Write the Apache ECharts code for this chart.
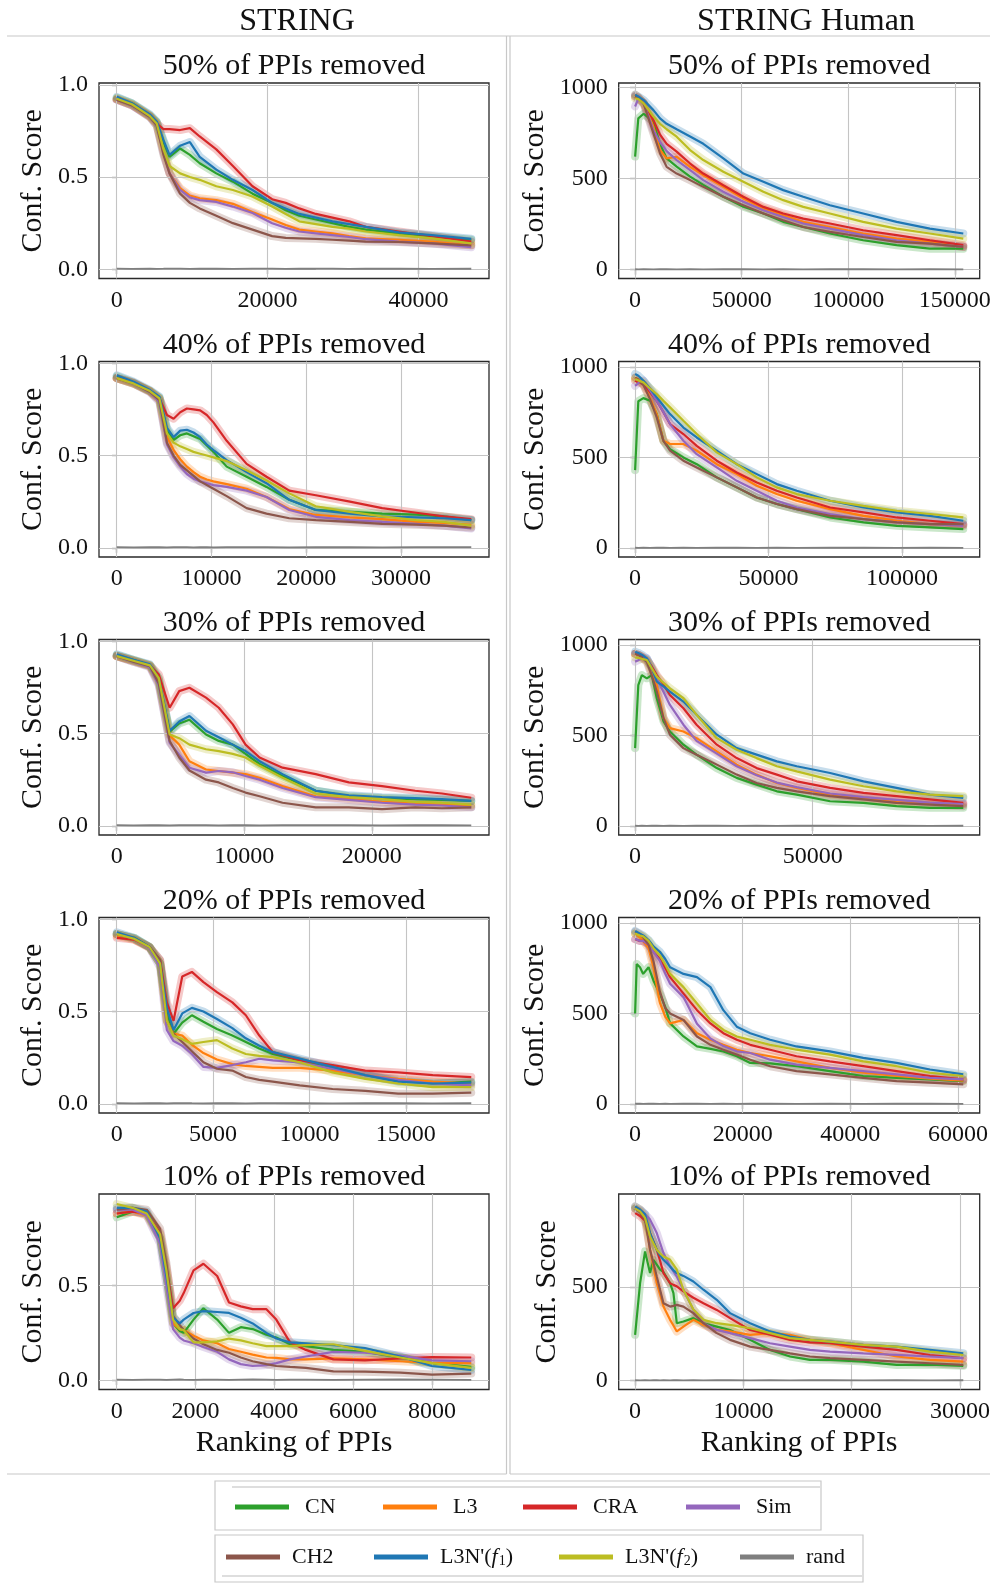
<!DOCTYPE html>
<html><head><meta charset="utf-8">
<script src="https://cdn.jsdelivr.net/npm/echarts@6/dist/echarts.min.js"></script>
<style>html,body{margin:0;padding:0;background:#fff}#c{width:997px;height:1583px}</style>
</head><body><div id="c"></div>
<script>
// ---------- series names ----------
const NAMES = ['CN', 'L3', 'CRA', 'Sim', 'CH2', "L3N'(f1)", "L3N'(f2)", 'rand'];

// ---------- tick labels ----------
const S_yTicks = [0, 0.5, 1.0];
const S10_yTicks = [0, 0.5];
const H_yTicks = [0, 500, 1000];
const H10_yTicks = [0, 500];
const S50_xTicks = [0, 20000, 40000];
const S40_xTicks = [0, 10000, 20000, 30000];
const S30_xTicks = [0, 10000, 20000];
const S20_xTicks = [0, 5000, 10000, 15000];
const S10_xTicks = [0, 2000, 4000, 6000, 8000];
const H50_xTicks = [0, 50000, 100000, 150000];
const H40_xTicks = [0, 50000, 100000];
const H30_xTicks = [0, 50000];
const H20_xTicks = [0, 20000, 40000, 60000];
const H10_xTicks = [0, 10000, 20000, 30000];

// ---------- STRING 50% ----------
const S50_x   = [0, 2000, 4400, 5300, 6200, 7000, 8400, 9700, 11000, 13200, 15400, 18000, 20600, 22400, 24200, 26400, 28600, 30800, 33000, 37400, 41800, 47000];
const S50_CN  = [0.93, 0.90, 0.835, 0.80, 0.69, 0.61, 0.655, 0.62, 0.575, 0.52, 0.475, 0.41, 0.36, 0.32, 0.29, 0.27, 0.25, 0.23, 0.215, 0.195, 0.178, 0.16];
const S50_L3  = [0.925, 0.895, 0.83, 0.79, 0.64, 0.52, 0.44, 0.40, 0.385, 0.375, 0.355, 0.31, 0.27, 0.24, 0.215, 0.205, 0.195, 0.18, 0.168, 0.16, 0.15, 0.13];
const S50_CRA = [0.92, 0.89, 0.83, 0.79, 0.76, 0.76, 0.755, 0.765, 0.72, 0.65, 0.56, 0.45, 0.38, 0.36, 0.33, 0.30, 0.28, 0.26, 0.23, 0.205, 0.18, 0.15];
const S50_Sim = [0.92, 0.89, 0.825, 0.78, 0.63, 0.52, 0.43, 0.39, 0.375, 0.365, 0.34, 0.305, 0.25, 0.225, 0.205, 0.195, 0.185, 0.175, 0.163, 0.15, 0.14, 0.12];
const S50_CH2 = [0.92, 0.89, 0.825, 0.78, 0.62, 0.52, 0.41, 0.36, 0.33, 0.29, 0.25, 0.215, 0.18, 0.17, 0.168, 0.165, 0.16, 0.155, 0.15, 0.148, 0.14, 0.13];
const S50_F1  = [0.935, 0.90, 0.84, 0.80, 0.70, 0.62, 0.67, 0.69, 0.61, 0.54, 0.485, 0.43, 0.36, 0.33, 0.30, 0.28, 0.26, 0.245, 0.23, 0.20, 0.185, 0.165];
const S50_F2  = [0.925, 0.895, 0.83, 0.79, 0.65, 0.56, 0.52, 0.50, 0.485, 0.45, 0.43, 0.395, 0.34, 0.30, 0.26, 0.245, 0.23, 0.22, 0.205, 0.185, 0.168, 0.14];
const S50_rand= [0.003, 0.002, 0.003, 0.002, 0.003, 0.004, 0.003, 0.002, 0.003, 0.003, 0.002, 0.004, 0.003, 0.002, 0.003, 0.003, 0.004, 0.002, 0.003, 0.003, 0.002, 0.003];

// ---------- STRING 40% ----------
const S40_x   = [0, 1800, 3500, 4500, 5300, 6000, 6700, 7400, 8100, 8800, 9500, 10200, 11600, 13700, 15800, 18200, 21000, 24600, 28000, 31600, 34500, 37400];
const S40_CN  = [0.93, 0.895, 0.85, 0.815, 0.64, 0.585, 0.61, 0.62, 0.605, 0.59, 0.555, 0.52, 0.44, 0.385, 0.33, 0.26, 0.205, 0.195, 0.185, 0.18, 0.17, 0.15];
const S40_L3  = [0.92, 0.89, 0.85, 0.80, 0.60, 0.53, 0.48, 0.44, 0.41, 0.385, 0.37, 0.36, 0.345, 0.32, 0.275, 0.21, 0.178, 0.165, 0.155, 0.14, 0.135, 0.125];
const S40_CRA = [0.92, 0.895, 0.85, 0.81, 0.72, 0.70, 0.735, 0.755, 0.75, 0.745, 0.72, 0.68, 0.58, 0.455, 0.385, 0.31, 0.285, 0.25, 0.215, 0.19, 0.17, 0.155];
const S40_Sim = [0.92, 0.89, 0.845, 0.79, 0.56, 0.49, 0.44, 0.40, 0.375, 0.36, 0.35, 0.34, 0.33, 0.31, 0.275, 0.205, 0.168, 0.15, 0.14, 0.13, 0.12, 0.105];
const S40_CH2 = [0.92, 0.89, 0.845, 0.80, 0.57, 0.50, 0.45, 0.42, 0.39, 0.36, 0.34, 0.32, 0.28, 0.215, 0.185, 0.16, 0.15, 0.14, 0.13, 0.125, 0.12, 0.11];
const S40_F1  = [0.935, 0.90, 0.855, 0.82, 0.65, 0.60, 0.635, 0.64, 0.625, 0.60, 0.56, 0.53, 0.475, 0.41, 0.35, 0.26, 0.205, 0.185, 0.17, 0.165, 0.16, 0.15];
const S40_F2  = [0.92, 0.89, 0.85, 0.81, 0.62, 0.57, 0.55, 0.535, 0.52, 0.51, 0.50, 0.49, 0.47, 0.42, 0.365, 0.295, 0.225, 0.195, 0.17, 0.15, 0.14, 0.12];
const S40_rand= [0.003, 0.002, 0.003, 0.003, 0.002, 0.003, 0.004, 0.003, 0.002, 0.003, 0.003, 0.002, 0.003, 0.004, 0.003, 0.002, 0.003, 0.003, 0.002, 0.003, 0.004, 0.003];

// ---------- STRING 30% ----------
const S30_x   = [0, 1300, 2600, 3300, 4150, 4900, 5700, 7000, 8000, 9100, 10100, 11200, 13000, 15600, 18200, 20800, 23400, 25500, 27800];
const S30_CN  = [0.925, 0.90, 0.87, 0.79, 0.51, 0.555, 0.575, 0.495, 0.46, 0.44, 0.39, 0.335, 0.27, 0.19, 0.16, 0.15, 0.145, 0.14, 0.135];
const S30_L3  = [0.92, 0.895, 0.865, 0.78, 0.49, 0.44, 0.35, 0.305, 0.297, 0.288, 0.28, 0.26, 0.215, 0.16, 0.145, 0.13, 0.12, 0.115, 0.11];
const S30_CRA = [0.92, 0.895, 0.87, 0.82, 0.64, 0.73, 0.748, 0.695, 0.64, 0.55, 0.44, 0.37, 0.315, 0.28, 0.235, 0.215, 0.19, 0.175, 0.152];
const S30_Sim = [0.92, 0.89, 0.86, 0.76, 0.45, 0.385, 0.315, 0.288, 0.297, 0.29, 0.27, 0.25, 0.205, 0.155, 0.14, 0.125, 0.115, 0.11, 0.10];
const S30_CH2 = [0.92, 0.89, 0.865, 0.77, 0.46, 0.37, 0.30, 0.25, 0.235, 0.205, 0.18, 0.16, 0.125, 0.10, 0.10, 0.09, 0.10, 0.095, 0.10];
const S30_F1  = [0.93, 0.90, 0.875, 0.80, 0.515, 0.565, 0.595, 0.515, 0.48, 0.44, 0.405, 0.35, 0.28, 0.19, 0.165, 0.155, 0.15, 0.145, 0.135];
const S30_F2  = [0.92, 0.895, 0.87, 0.80, 0.495, 0.475, 0.44, 0.415, 0.405, 0.39, 0.37, 0.325, 0.26, 0.175, 0.155, 0.145, 0.13, 0.125, 0.115];
const S30_rand= [0.003, 0.002, 0.003, 0.003, 0.002, 0.003, 0.004, 0.003, 0.002, 0.003, 0.003, 0.002, 0.003, 0.004, 0.003, 0.002, 0.003, 0.003, 0.002];

// ---------- STRING 20% ----------
const S20_x   = [0, 900, 1700, 2250, 2600, 2950, 3400, 3900, 4500, 5200, 6000, 6700, 7400, 8100, 9500, 11200, 12900, 14600, 16400, 18400];
const S20_CN  = [0.92, 0.90, 0.85, 0.76, 0.50, 0.38, 0.44, 0.48, 0.445, 0.405, 0.37, 0.335, 0.30, 0.27, 0.235, 0.19, 0.155, 0.125, 0.11, 0.12];
const S20_L3  = [0.91, 0.89, 0.845, 0.76, 0.45, 0.38, 0.37, 0.32, 0.275, 0.24, 0.215, 0.205, 0.20, 0.195, 0.195, 0.18, 0.155, 0.135, 0.12, 0.11];
const S20_CRA = [0.90, 0.89, 0.85, 0.78, 0.55, 0.45, 0.69, 0.715, 0.66, 0.605, 0.55, 0.48, 0.37, 0.28, 0.235, 0.21, 0.18, 0.17, 0.155, 0.145];
const S20_Sim = [0.92, 0.895, 0.845, 0.74, 0.40, 0.34, 0.315, 0.27, 0.20, 0.195, 0.21, 0.225, 0.244, 0.235, 0.225, 0.19, 0.155, 0.13, 0.11, 0.10];
const S20_CH2 = [0.92, 0.895, 0.85, 0.78, 0.45, 0.38, 0.335, 0.285, 0.225, 0.19, 0.18, 0.145, 0.13, 0.12, 0.10, 0.08, 0.07, 0.055, 0.055, 0.06];
const S20_F1  = [0.93, 0.90, 0.85, 0.76, 0.52, 0.40, 0.49, 0.52, 0.50, 0.46, 0.41, 0.355, 0.315, 0.28, 0.245, 0.20, 0.155, 0.12, 0.11, 0.115];
const S20_F2  = [0.92, 0.895, 0.85, 0.76, 0.45, 0.37, 0.35, 0.325, 0.335, 0.345, 0.30, 0.27, 0.26, 0.253, 0.225, 0.17, 0.135, 0.11, 0.09, 0.09];
const S20_rand= [0.003, 0.002, 0.003, 0.003, 0.002, 0.003, 0.004, 0.003, 0.002, 0.003, 0.003, 0.002, 0.003, 0.004, 0.003, 0.002, 0.003, 0.003, 0.002, 0.003];

// ---------- STRING 10% ----------
const S10_x   = [0, 400, 760, 1100, 1260, 1430, 1600, 1700, 1950, 2200, 2550, 2850, 3150, 3450, 3800, 4050, 4400, 4800, 5500, 6300, 7200, 8000, 9000];
const S10_CN  = [0.86, 0.89, 0.88, 0.75, 0.55, 0.30, 0.26, 0.25, 0.32, 0.38, 0.32, 0.25, 0.28, 0.27, 0.24, 0.225, 0.19, 0.18, 0.16, 0.15, 0.12, 0.09, 0.07];
const S10_L3  = [0.88, 0.89, 0.87, 0.75, 0.56, 0.30, 0.27, 0.265, 0.235, 0.21, 0.195, 0.165, 0.15, 0.135, 0.12, 0.118, 0.11, 0.11, 0.115, 0.11, 0.10, 0.092, 0.09];
const S10_CRA = [0.88, 0.89, 0.88, 0.78, 0.60, 0.38, 0.42, 0.46, 0.58, 0.615, 0.55, 0.41, 0.39, 0.375, 0.375, 0.32, 0.20, 0.16, 0.11, 0.105, 0.115, 0.122, 0.12];
const S10_Sim = [0.90, 0.90, 0.87, 0.72, 0.50, 0.27, 0.225, 0.21, 0.195, 0.175, 0.15, 0.11, 0.085, 0.075, 0.08, 0.09, 0.11, 0.125, 0.15, 0.145, 0.13, 0.105, 0.10];
const S10_CH2 = [0.90, 0.91, 0.90, 0.80, 0.62, 0.34, 0.29, 0.265, 0.22, 0.19, 0.16, 0.145, 0.12, 0.10, 0.085, 0.075, 0.07, 0.065, 0.047, 0.045, 0.04, 0.03, 0.035];
const S10_F1  = [0.91, 0.91, 0.89, 0.75, 0.55, 0.33, 0.30, 0.32, 0.355, 0.365, 0.36, 0.355, 0.33, 0.30, 0.25, 0.22, 0.20, 0.195, 0.185, 0.17, 0.125, 0.075, 0.055];
const S10_F2  = [0.93, 0.91, 0.88, 0.77, 0.58, 0.32, 0.27, 0.265, 0.20, 0.20, 0.205, 0.22, 0.21, 0.195, 0.18, 0.18, 0.18, 0.185, 0.19, 0.155, 0.12, 0.09, 0.065];
const S10_rand= [0.003, 0.002, 0.003, 0.003, 0.002, 0.003, 0.004, 0.003, 0.002, 0.003, 0.003, 0.002, 0.003, 0.004, 0.003, 0.002, 0.003, 0.003, 0.002, 0.003, 0.004, 0.003, 0.002];

// ---------- STRING Human 50% ----------
const H50_x   = [0, 1500, 4000, 8600, 11700, 14800, 19500, 25800, 32000, 41400, 50800, 60200, 69500, 78900, 91400, 107000, 122700, 138300, 154000];
const H50_CN  = [620, 830, 855, 810, 690, 610, 565, 510, 465, 400, 345, 308, 262, 234, 198, 161, 134, 115, 115];
const H50_L3  = [960, 945, 915, 784, 656, 610, 619, 564, 518, 454, 390, 335, 298, 262, 234, 198, 170, 152, 125];
const H50_CRA = [950, 940, 915, 820, 740, 690, 647, 582, 527, 463, 400, 344, 308, 280, 253, 216, 189, 161, 134];
const H50_Sim = [895, 935, 915, 765, 700, 650, 601, 546, 491, 427, 372, 326, 289, 253, 225, 189, 161, 143, 125];
const H50_CH2 = [950, 945, 910, 747, 637, 564, 527, 491, 454, 400, 353, 308, 271, 234, 207, 179, 152, 143, 125];
const H50_F1  = [960, 950, 930, 875, 830, 800, 770, 730, 690, 610, 527, 482, 436, 400, 353, 308, 262, 225, 198];
const H50_F2  = [940, 935, 912, 840, 800, 770, 729, 656, 601, 537, 482, 427, 381, 344, 308, 262, 225, 198, 170];
const H50_rand= [2, 1, 2, 1, 2, 2, 1, 2, 1, 2, 2, 1, 2, 1, 2, 2, 1, 2, 1];

// ---------- STRING Human 40% ----------
const H40_x   = [0, 1200, 3100, 5600, 8100, 10600, 13100, 18100, 23100, 30600, 38100, 45600, 53100, 60600, 73100, 85600, 98100, 110600, 123000];
const H40_CN  = [430, 810, 827, 812, 739, 592, 546, 500, 463, 390, 335, 279, 243, 215, 169, 142, 123, 114, 105];
const H40_L3  = [940, 930, 904, 830, 739, 592, 574, 574, 537, 463, 408, 344, 298, 261, 215, 178, 151, 132, 123];
const H40_CRA = [923, 915, 904, 860, 812, 750, 684, 629, 564, 482, 417, 362, 316, 279, 224, 197, 169, 151, 132];
const H40_Sim = [895, 910, 923, 870, 812, 750, 684, 592, 518, 445, 371, 316, 261, 224, 188, 160, 142, 132, 123];
const H40_CH2 = [940, 930, 900, 820, 721, 592, 537, 482, 445, 390, 335, 279, 243, 215, 178, 160, 142, 132, 132];
const H40_F1  = [960, 950, 923, 880, 831, 785, 739, 665, 610, 537, 463, 408, 353, 316, 261, 224, 197, 178, 151];
const H40_F2  = [932, 925, 914, 880, 849, 812, 776, 702, 629, 528, 463, 390, 335, 298, 261, 233, 206, 188, 169];
const H40_rand= [2, 1, 2, 1, 2, 2, 1, 2, 1, 2, 2, 1, 2, 1, 2, 2, 1, 2, 1];

// ---------- STRING Human 30% ----------
const H30_x   = [0, 900, 1900, 3300, 4700, 6100, 8000, 9800, 13600, 17300, 23000, 28600, 34200, 39900, 45500, 54900, 64300, 73600, 83000, 92400];
const H30_CN  = [430, 778, 833, 815, 833, 705, 577, 522, 449, 394, 320, 266, 229, 192, 174, 137, 128, 110, 101, 101];
const H30_L3  = [950, 945, 935, 910, 850, 778, 595, 540, 522, 485, 412, 339, 284, 238, 211, 174, 156, 137, 128, 119];
const H30_CRA = [950, 945, 935, 916, 880, 833, 780, 723, 650, 559, 449, 375, 320, 284, 247, 211, 183, 165, 147, 128];
const H30_Sim = [907, 915, 925, 925, 870, 815, 740, 668, 559, 470, 400, 330, 280, 240, 215, 180, 160, 145, 130, 122];
const H30_CH2 = [950, 945, 930, 905, 830, 742, 595, 504, 430, 394, 339, 284, 238, 211, 192, 165, 147, 128, 119, 110];
const H30_F1  = [962, 955, 945, 925, 870, 797, 770, 742, 687, 614, 504, 430, 394, 357, 330, 293, 247, 211, 174, 156];
const H30_F2  = [930, 928, 922, 916, 870, 824, 790, 760, 705, 614, 485, 421, 375, 330, 302, 256, 220, 192, 174, 165];
const H30_rand= [2, 1, 2, 1, 2, 2, 1, 2, 1, 2, 2, 1, 2, 1, 2, 2, 1, 2, 1, 2];

// ---------- STRING Human 20% ----------
const H20_x   = [0, 300, 900, 1500, 2500, 3400, 4600, 5600, 6500, 9000, 11500, 14000, 16400, 18900, 21400, 25100, 30000, 36200, 42400, 48600, 54800, 61000];
const H20_CN  = [500, 773, 755, 718, 755, 682, 609, 536, 445, 373, 318, 305, 290, 264, 227, 225, 209, 182, 155, 145, 136, 127];
const H20_L3  = [940, 935, 920, 900, 860, 755, 560, 482, 445, 464, 391, 355, 327, 300, 282, 264, 236, 200, 173, 155, 140, 130];
const H20_CRA = [909, 905, 900, 900, 880, 840, 800, 750, 700, 609, 518, 445, 391, 355, 327, 300, 264, 236, 209, 182, 155, 136];
const H20_Sim = [910, 905, 900, 900, 880, 840, 790, 720, 664, 590, 443, 362, 320, 291, 282, 245, 218, 200, 182, 164, 145, 136];
const H20_CH2 = [950, 945, 935, 920, 880, 790, 620, 530, 500, 464, 373, 327, 300, 273, 245, 209, 182, 164, 145, 127, 118, 109];
const H20_F1  = [955, 950, 940, 930, 905, 870, 840, 800, 755, 718, 700, 645, 518, 427, 391, 355, 318, 291, 255, 227, 191, 164];
const H20_F2  = [940, 935, 930, 925, 900, 860, 820, 770, 718, 645, 555, 464, 409, 373, 355, 327, 300, 273, 236, 209, 173, 155];
const H20_rand= [2, 1, 2, 1, 2, 2, 1, 2, 1, 2, 2, 1, 2, 1, 2, 2, 1, 2, 1, 2, 2, 1];

// ---------- STRING Human 10% ----------
const H10_x   = [0, 460, 920, 1380, 1690, 2000, 2310, 2620, 3230, 3540, 3850, 4460, 5380, 6310, 7540, 8770, 10620, 12460, 14310, 16150, 18000, 21080, 24150, 27230, 30310];
const H10_CN  = [245, 521, 691, 575, 646, 620, 593, 580, 521, 468, 307, 316, 334, 307, 289, 271, 218, 164, 129, 111, 111, 102, 84, 86, 79];
const H10_L3  = [930, 915, 880, 700, 610, 521, 460, 396, 325, 295, 263, 289, 325, 298, 271, 263, 245, 254, 245, 218, 200, 164, 129, 111, 102];
const H10_CRA = [896, 880, 855, 789, 745, 700, 640, 575, 521, 512, 504, 477, 443, 414, 378, 334, 271, 245, 218, 205, 200, 182, 164, 137, 120];
const H10_Sim = [920, 910, 890, 861, 825, 789, 735, 682, 611, 584, 557, 486, 379, 307, 271, 254, 227, 200, 182, 164, 155, 146, 138, 129, 120];
const H10_CH2 = [920, 900, 860, 700, 630, 557, 485, 414, 396, 400, 405, 396, 361, 307, 254, 218, 182, 164, 146, 129, 120, 111, 102, 93, 84];
const H10_F1  = [932, 915, 890, 789, 745, 700, 670, 646, 610, 590, 575, 560, 530, 486, 432, 361, 307, 263, 236, 218, 209, 191, 182, 164, 146];
const H10_F2  = [920, 905, 870, 771, 735, 700, 680, 664, 646, 620, 593, 486, 380, 325, 307, 298, 280, 254, 227, 218, 209, 191, 182, 155, 137];
const H10_rand= [2, 1, 2, 1, 2, 2, 1, 2, 1, 2, 2, 1, 2, 1, 2, 2, 1, 2, 1, 2, 2, 1, 2, 1, 2];

// ---------- styles / layout ----------
const FONT = "'Liberation Serif','Times New Roman',serif";
const COLORS = ['#2ca02c', '#ff7f0e', '#d62728', '#9467bd', '#8c564b', '#1f77b4', '#bcbd22', '#7f7f7f'];
const COL_LEFT = [99, 618.7];
const COL_W = [390, 361];
const ROW_TOP = [83, 361.5, 639.5, 917.5, 1194];
const ROW_H = 195.5;
const TITLE_TXT = ['50% of PPIs removed', '40% of PPIs removed', '30% of PPIs removed', '20% of PPIs removed', '10% of PPIs removed'];

const PANELS = [
  {col: 0, row: 0, x: S50_x, ys: [S50_CN, S50_L3, S50_CRA, S50_Sim, S50_CH2, S50_F1, S50_F2, S50_rand], xTicks: S50_xTicks, yTicks: S_yTicks, yRange: [-0.05, 1.01]},
  {col: 0, row: 1, x: S40_x, ys: [S40_CN, S40_L3, S40_CRA, S40_Sim, S40_CH2, S40_F1, S40_F2, S40_rand], xTicks: S40_xTicks, yTicks: S_yTicks, yRange: [-0.05, 1.01]},
  {col: 0, row: 2, x: S30_x, ys: [S30_CN, S30_L3, S30_CRA, S30_Sim, S30_CH2, S30_F1, S30_F2, S30_rand], xTicks: S30_xTicks, yTicks: S_yTicks, yRange: [-0.05, 1.01]},
  {col: 0, row: 3, x: S20_x, ys: [S20_CN, S20_L3, S20_CRA, S20_Sim, S20_CH2, S20_F1, S20_F2, S20_rand], xTicks: S20_xTicks, yTicks: S_yTicks, yRange: [-0.05, 1.01]},
  {col: 0, row: 4, x: S10_x, ys: [S10_CN, S10_L3, S10_CRA, S10_Sim, S10_CH2, S10_F1, S10_F2, S10_rand], xTicks: S10_xTicks, yTicks: S10_yTicks, yRange: [-0.049, 0.983]},
  {col: 1, row: 0, x: H50_x, ys: [H50_CN, H50_L3, H50_CRA, H50_Sim, H50_CH2, H50_F1, H50_F2, H50_rand], xTicks: H50_xTicks, yTicks: H_yTicks, yRange: [-48.75, 1023.75]},
  {col: 1, row: 1, x: H40_x, ys: [H40_CN, H40_L3, H40_CRA, H40_Sim, H40_CH2, H40_F1, H40_F2, H40_rand], xTicks: H40_xTicks, yTicks: H_yTicks, yRange: [-49, 1029]},
  {col: 1, row: 2, x: H30_x, ys: [H30_CN, H30_L3, H30_CRA, H30_Sim, H30_CH2, H30_F1, H30_F2, H30_rand], xTicks: H30_xTicks, yTicks: H_yTicks, yRange: [-49, 1029]},
  {col: 1, row: 3, x: H20_x, ys: [H20_CN, H20_L3, H20_CRA, H20_Sim, H20_CH2, H20_F1, H20_F2, H20_rand], xTicks: H20_xTicks, yTicks: H_yTicks, yRange: [-49, 1029]},
  {col: 1, row: 4, x: H10_x, ys: [H10_CN, H10_L3, H10_CRA, H10_Sim, H10_CH2, H10_F1, H10_F2, H10_rand], xTicks: H10_xTicks, yTicks: H10_yTicks, yRange: [-47.5, 998]}
];

const grids = [], xAxes = [], yAxes = [], titles = [], lineSeries = [], bandSeries = [];

titles.push({text: 'STRING', left: 297, top: 6, textAlign: 'center', textVerticalAlign: 'top', padding: 0,
  textStyle: {fontFamily: FONT, fontSize: 32, fontWeight: 'normal', color: '#111'}});
titles.push({text: 'STRING Human', left: 806, top: 6, textAlign: 'center', textVerticalAlign: 'top', padding: 0,
  textStyle: {fontFamily: FONT, fontSize: 32, fontWeight: 'normal', color: '#111'}});

PANELS.forEach((p, i) => {
  const left = COL_LEFT[p.col], top = ROW_TOP[p.row], w = COL_W[p.col];
  grids.push({left: left, top: top, width: w, height: ROW_H, show: true, borderColor: '#2a2a2a', borderWidth: 1.3,
    backgroundColor: 'rgba(0,0,0,0)', containLabel: false, outerBoundsMode: 'none'});
  titles.push({text: TITLE_TXT[p.row], left: left + w / 2, top: top - 31.5, textAlign: 'center', textVerticalAlign: 'top', padding: 0,
    textStyle: {fontFamily: FONT, fontSize: 30, fontWeight: 'normal', color: '#111'}});
  const xmax = p.x[p.x.length - 1];
  xAxes.push({type: 'value', gridIndex: i, min: -0.05 * xmax, max: 1.05 * xmax,
    axisLine: {show: false}, splitLine: {show: false},
    axisTick: {show: true, inside: false, length: 5, lineStyle: {color: '#2a2a2a', width: 1.2}, customValues: p.xTicks},
    axisLabel: {show: true, customValues: p.xTicks, formatter: v => String(v), fontFamily: FONT, fontSize: 24, color: '#111', margin: 10},
    name: p.row === 4 ? 'Ranking of PPIs' : '', nameLocation: 'middle', nameGap: 39, nameMoveOverlap: false,
    nameTextStyle: {fontFamily: FONT, fontSize: 30, color: '#111'}});
  yAxes.push({type: 'value', gridIndex: i, min: p.yRange[0], max: p.yRange[1],
    axisLine: {show: false}, splitLine: {show: false},
    axisTick: {show: true, inside: false, length: 5, lineStyle: {color: '#2a2a2a', width: 1.2}, customValues: p.yTicks},
    axisLabel: {show: true, customValues: p.yTicks, formatter: v => (p.col === 0 ? Number(v).toFixed(1) : String(v)),
      fontFamily: FONT, fontSize: 24, color: '#111', margin: 11},
    name: 'Conf. Score', nameLocation: 'middle', nameRotate: 90, nameMoveOverlap: false,
    nameGap: p.col === 0 ? 51 : (p.row === 4 ? 57 : 69),
    nameTextStyle: {fontFamily: FONT, fontSize: 30, color: '#111'}});
  p.ys.forEach((ys, k) => {
    const data = p.x.map((x, j) => [x, ys[j]]);
    const s = {type: 'line', name: NAMES[k], xAxisIndex: i, yAxisIndex: i, data: data,
      showSymbol: false, symbol: 'none', silent: true, animation: false, z: 3,
      itemStyle: {color: COLORS[k]}, lineStyle: {color: COLORS[k], width: 2.2}};
    if (k === 7) {
      s.lineStyle.width = 1.8;
      s.markLine = {silent: true, symbol: 'none', animation: false, z: 2.5,
        label: {show: false}, emphasis: {disabled: true},
        lineStyle: {type: 'solid', color: '#c4c4c4', width: 1.1},
        data: p.xTicks.map(v => ({xAxis: v})).concat(p.yTicks.map(v => ({yAxis: v})))};
    }
    lineSeries.push(s);
    if (k < 7) {
      bandSeries.push({type: 'line', name: NAMES[k], xAxisIndex: i, yAxisIndex: i, data: data,
        showSymbol: false, symbol: 'none', silent: true, animation: false, z: 2,
        itemStyle: {color: COLORS[k]},
        lineStyle: {color: COLORS[k], width: 8, opacity: 0.25, join: 'round', cap: 'round'}});
    }
  });
});

// legends: one component per entry so each sits where it does in the figure
const LEG_POS = [[235, 1496, 11], [383, 1496, 11], [523, 1496, 11], [686, 1496, 11],
                 [226, 1546, 7], [374, 1546, 7], [559, 1546, 7], [740, 1546, 7]];
const legends = NAMES.map((n, k) => ({
  data: [{name: n, icon: 'rect', itemStyle: {color: COLORS[k]}}],
  left: LEG_POS[k][0], top: LEG_POS[k][1], padding: 0, itemWidth: 54, itemHeight: 5, itemGap: 0,
  formatter: name => name === "L3N'(f1)" ? "L3N'({it|f}{sub|1})" : (name === "L3N'(f2)" ? "L3N'({it|f}{sub|2})" : name),
  textStyle: {fontFamily: FONT, fontSize: 22, color: '#111', padding: [0, 0, 0, LEG_POS[k][2]],
    rich: {it: {fontFamily: FONT, fontSize: 22, fontStyle: 'italic', color: '#111'},
           sub: {fontFamily: FONT, fontSize: 14, color: '#111', verticalAlign: 'bottom', padding: [8, 0, 0, 1]}}}
}));

const graphics = [
  {type: 'line', silent: true, z: -1, shape: {x1: 7, y1: 36, x2: 990, y2: 36}, style: {stroke: '#c8c8c8', lineWidth: 1.2}},
  {type: 'line', silent: true, z: -1, shape: {x1: 506.5, y1: 36, x2: 506.5, y2: 1474}, style: {stroke: '#c8c8c8', lineWidth: 1.2}},
  {type: 'line', silent: true, z: -1, shape: {x1: 510, y1: 36, x2: 510, y2: 1474}, style: {stroke: '#c8c8c8', lineWidth: 1.2}},
  {type: 'line', silent: true, z: -1, shape: {x1: 7, y1: 1474, x2: 506.5, y2: 1474}, style: {stroke: '#c8c8c8', lineWidth: 1.2}},
  {type: 'line', silent: true, z: -1, shape: {x1: 510, y1: 1474, x2: 990, y2: 1474}, style: {stroke: '#c8c8c8', lineWidth: 1.2}},
  {type: 'rect', silent: true, z: -1, shape: {x: 215, y: 1481, width: 606, height: 49}, style: {fill: 'none', stroke: '#c8c8c8', lineWidth: 1.2}},
  {type: 'line', silent: true, z: -1, shape: {x1: 232, y1: 1487, x2: 821, y2: 1487}, style: {stroke: '#dedede', lineWidth: 2}},
  {type: 'rect', silent: true, z: -1, shape: {x: 215, y: 1535, width: 648, height: 47}, style: {fill: 'none', stroke: '#c8c8c8', lineWidth: 1.2}},
  {type: 'line', silent: true, z: -1, shape: {x1: 222, y1: 1576, x2: 863, y2: 1576}, style: {stroke: '#dedede', lineWidth: 2}}
];

const chart = echarts.init(document.getElementById('c'), null, {renderer: 'canvas', width: 997, height: 1583});
chart.setOption({
  backgroundColor: '#ffffff',
  animation: false,
  textStyle: {fontFamily: FONT},
  title: titles,
  legend: legends,
  grid: grids,
  xAxis: xAxes,
  yAxis: yAxes,
  graphic: graphics,
  series: lineSeries.concat(bandSeries)
});
</script>
</body></html>
